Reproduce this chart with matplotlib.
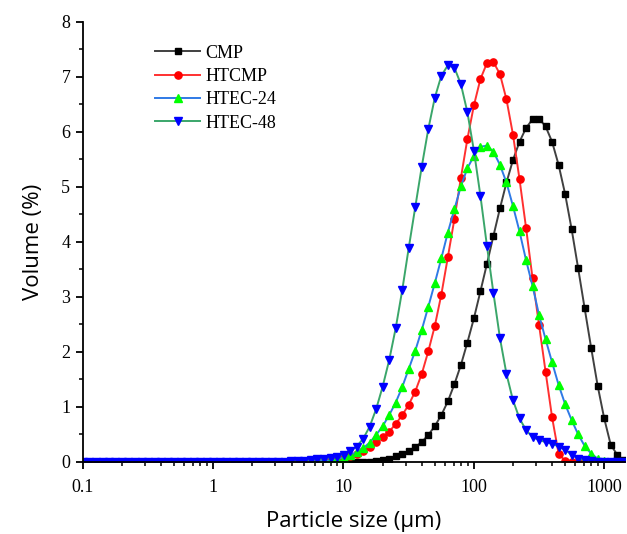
import matplotlib
matplotlib.use("Agg")
import matplotlib.pyplot as plt
from matplotlib.ticker import LogLocator, MultipleLocator, NullFormatter, FixedLocator, FixedFormatter

# Particle size bins (um), standard laser-diffraction grid
sizes = [0.100, 0.112, 0.126, 0.142, 0.159, 0.178, 0.200, 0.224, 0.252, 0.283,
         0.317, 0.356, 0.399, 0.448, 0.502, 0.564, 0.632, 0.710, 0.796, 0.893,
         1.002, 1.125, 1.262, 1.416, 1.589, 1.783, 2.000, 2.244, 2.518, 2.825,
         3.170, 3.557, 3.991, 4.477, 5.024, 5.637, 6.325, 7.096, 7.962, 8.934,
         10.024, 11.247, 12.619, 14.159, 15.887, 17.825, 20.000, 22.440, 25.179, 28.251,
         31.698, 35.566, 39.905, 44.774, 50.238, 56.368, 63.246, 70.963, 79.621, 89.337,
         100.237, 112.468, 126.191, 141.589, 158.866, 178.250, 200.000, 224.404, 251.785, 282.508,
         316.979, 355.656, 399.052, 447.744, 502.377, 563.677, 632.456, 709.627, 796.214, 893.367,
         1002.374, 1124.683, 1261.915, 1415.892]

cmp_vals = [0]*45 + [0.01, 0.035, 0.06, 0.10, 0.145, 0.20, 0.27, 0.36, 0.49, 0.65,
                     0.85, 1.10, 1.41, 1.76, 2.17, 2.61, 3.10, 3.60, 4.11, 4.61,
                     5.08, 5.49, 5.82, 6.07, 6.23, 6.24, 6.10, 5.82, 5.40, 4.87,
                     4.23, 3.52, 2.79, 2.07, 1.38, 0.79, 0.31, 0.13, 0.03]

htcmp_vals = [0]*34 + [0.005, 0.01, 0.015, 0.025, 0.035, 0.05, 0.07, 0.10, 0.14, 0.20,
                       0.27, 0.36, 0.45, 0.55, 0.69, 0.85, 1.04, 1.28, 1.60, 2.01,
                       2.47, 3.04, 3.72, 4.41, 5.16, 5.87, 6.48, 6.96, 7.25, 7.27,
                       7.05, 6.59, 5.95, 5.14, 4.26, 3.34, 2.49, 1.64, 0.81, 0.15,
                       0.02, 0, 0, 0, 0, 0, 0, 0, 0, 0]

htec24_vals = [0]*34 + [0.004, 0.007, 0.012, 0.02, 0.03, 0.05, 0.08, 0.12, 0.18, 0.25,
                        0.35, 0.49, 0.65, 0.85, 1.08, 1.36, 1.69, 2.02, 2.40, 2.82,
                        3.25, 3.70, 4.17, 4.59, 5.01, 5.34, 5.56, 5.73, 5.75, 5.64,
                        5.40, 5.08, 4.65, 4.19, 3.67, 3.20, 2.67, 2.23, 1.81, 1.40,
                        1.05, 0.76, 0.50, 0.29, 0.15, 0.06, 0.02, 0, 0, 0]

htec48_vals = [0]*31 + [0.005, 0.01, 0.02, 0.025, 0.035, 0.045, 0.06, 0.075, 0.095,
                        0.13, 0.19, 0.28, 0.42, 0.64, 0.96, 1.37, 1.85, 2.43, 3.12,
                        3.89, 4.63, 5.37, 6.05, 6.62, 7.02, 7.21, 7.17, 6.87, 6.36,
                        5.66, 4.84, 3.93, 3.07, 2.25, 1.60, 1.12, 0.79, 0.58, 0.45,
                        0.40, 0.36, 0.33, 0.28, 0.22, 0.13, 0.06, 0.03, 0.01, 0,
                        0, 0, 0, 0]

labels = ["CMP", "HTCMP", "HTEC-24", "HTEC-48"]

fig = plt.figure(figsize=(6.27, 5.34), dpi=100)
ax = fig.add_axes([0.132, 0.135, 0.865, 0.824])

serif = "Liberation Serif"
ms = 5.2
lw = 1.4
ax.plot(sizes, cmp_vals, color="#404040", lw=lw, marker="s", ms=ms - 0.6,
        mfc="black", mec="black", label=labels[0])
ax.plot(sizes, htcmp_vals, color="#ff3030", lw=lw, marker="o", ms=ms,
        mfc="#ff0000", mec="#ff0000", label=labels[1])
ax.plot(sizes, htec24_vals, color="#2f7ae6", lw=lw, marker="^", ms=ms + 0.4,
        mfc="#00ff00", mec="#00ff00", label=labels[2])
ax.plot(sizes, htec48_vals, color="#3aa66a", lw=lw, marker="v", ms=ms + 0.4,
        mfc="#0000ff", mec="#0000ff", label=labels[3])

ax.set_xscale("log")
ax.set_xlim(0.1, 1450)
ax.set_ylim(0, 8)

ax.spines["top"].set_visible(False)
ax.spines["right"].set_visible(False)
for s in ("left", "bottom"):
    ax.spines[s].set_linewidth(1.3)

ax.xaxis.set_major_locator(FixedLocator([0.1, 1, 10, 100, 1000]))
ax.xaxis.set_major_formatter(FixedFormatter(["0.1", "1", "10", "100", "1000"]))
ax.xaxis.set_minor_locator(LogLocator(base=10, subs=range(2, 10), numticks=20))
ax.xaxis.set_minor_formatter(NullFormatter())
ax.yaxis.set_major_locator(MultipleLocator(1))
ax.yaxis.set_minor_locator(MultipleLocator(0.5))

ax.tick_params(which="major", direction="out", length=5, width=1.3,
               labelsize=13, pad=4)
ax.tick_params(axis="x", which="major", pad=7)
ax.tick_params(which="minor", direction="out", length=3, width=1.1)
for lab in ax.get_xticklabels() + ax.get_yticklabels():
    lab.set_fontfamily(serif)

ax.set_xlabel("Particle size (μm)", fontsize=16, family="Open Sans", labelpad=11)
ax.set_ylabel("Volume (%)", fontsize=16, family="Open Sans", labelpad=12)

leg = ax.legend(loc="upper left", bbox_to_anchor=(0.104, 0.985), frameon=False,
                prop={"family": serif, "size": 13}, handlelength=2.45,
                labelspacing=0.35, handletextpad=0.3)

fig.savefig("out.png", dpi=100)
